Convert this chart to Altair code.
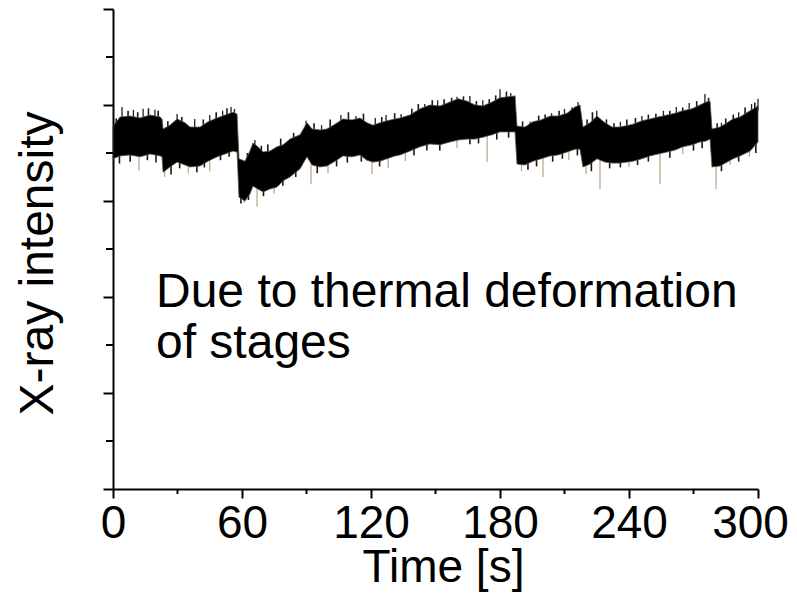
import altair as alt
import pandas as pd

# ---- data (time in s, intensity in arbitrary units 0..10) ----
TIME = [0, 3.3, 7.9, 12.6, 17.2, 21.9, 22.8, 23.3, 26.5, 29.8, 33.5, 35.8, 40.5, 44.2, 48.4,
        52.1, 55.8, 57.7, 58.6, 61.4, 63.7, 65.1, 67.4, 69.8, 73.0, 76.3, 79.1, 82.3, 87.0,
        90.2, 92.6, 96.3, 99.5, 103.3, 107.0, 111.2, 114.9, 118.1, 120.9, 124.2, 127.4,
        131.2, 133.5, 138.1, 142.8, 147.4, 152.1, 156.7, 160.5, 164.7, 168.4, 172.1, 176.3,
        180.0, 183.7, 187.0, 187.9, 191.6, 195.3, 199.1, 203.3, 207.0, 211.2, 214.9, 217.2,
        218.6, 221.9, 225.1, 228.8, 232.1, 235.8, 241.9, 246.0, 249.8, 253.5, 257.7, 261.4,
        265.1, 269.3, 273.0, 275.8, 277.7, 278.6, 282.3, 285.6, 288.4, 291.6, 296.3, 300.0]
UPPER = [7.56, 7.75, 7.77, 7.73, 7.79, 7.75, 7.71, 7.50, 7.58, 7.71, 7.63, 7.54, 7.54, 7.65, 7.73,
         7.79, 7.85, 7.81, 6.88, 6.83, 7.04, 7.21, 7.13, 7.02, 7.04, 7.13, 7.17, 7.29, 7.38,
         7.63, 7.50, 7.48, 7.50, 7.60, 7.71, 7.69, 7.73, 7.63, 7.58, 7.63, 7.67,
         7.71, 7.73, 7.79, 7.92, 8.00, 7.98, 8.06, 8.13, 8.08, 8.00, 7.98, 8.06,
         8.15, 8.17, 8.19, 7.56, 7.54, 7.65, 7.69, 7.77, 7.77, 7.83, 7.96, 8.00,
         7.54, 7.63, 7.77, 7.63, 7.54, 7.54, 7.60, 7.67, 7.71, 7.75, 7.79, 7.83,
         7.88, 7.92, 8.00, 8.06, 8.08, 7.50, 7.54, 7.63, 7.71, 7.75, 7.88, 7.98]
LOWER = [6.88, 6.94, 6.96, 6.92, 6.98, 6.94, 6.92, 6.60, 6.71, 6.81, 6.75, 6.71, 6.73, 6.83, 6.92,
         6.98, 7.04, 7.02, 6.08, 6.00, 6.15, 6.31, 6.25, 6.19, 6.25, 6.29, 6.42, 6.50, 6.67,
         6.92, 6.75, 6.71, 6.73, 6.83, 6.94, 6.92, 6.96, 6.85, 6.81, 6.83, 6.88,
         6.94, 6.96, 7.04, 7.13, 7.19, 7.17, 7.23, 7.27, 7.29, 7.29, 7.33, 7.38,
         7.44, 7.44, 7.44, 6.77, 6.75, 6.83, 6.88, 6.94, 6.96, 7.02, 7.08, 7.08,
         6.71, 6.77, 6.88, 6.81, 6.79, 6.79, 6.83, 6.88, 6.94, 6.98, 7.02, 7.06,
         7.13, 7.17, 7.23, 7.25, 7.29, 6.71, 6.73, 6.81, 6.88, 6.94, 7.04, 7.23]

# long downward noise spikes (pale): time, tip, base (inside the band)
DIP_T = [12.1, 24.0, 35.0, 45.0, 61.0, 67.0, 75.0, 92.1, 100.0, 120.5, 128.0, 136.0, 160.0,
         174.0, 190.0, 200.0, 212.0, 220.0, 226.5, 240.0, 254.4, 265.0, 280.5, 287.0, 296.0]
DIP_TIP = [6.63, 6.50, 6.58, 6.62, 5.96, 5.88, 6.15, 6.35, 6.58, 6.56, 6.69, 6.83, 7.10,
           6.81, 6.62, 6.50, 6.85, 6.56, 6.25, 6.71, 6.35, 6.98, 6.25, 6.75, 6.92]
DIP_BASE = [7.0, 6.7, 6.8, 6.9, 6.1, 6.35, 6.35, 6.85, 6.85, 6.9, 6.95, 7.1, 7.35,
            7.45, 6.85, 7.0, 7.1, 6.8, 6.95, 6.9, 7.05, 7.2, 6.8, 6.95, 7.1]
# upward noise peaks: time, tip, base (inside the band)
PEAK_T = [4.2, 9.5, 14.0, 19.5, 29.8, 38.0, 45.0, 51.0, 54.9, 56.5, 66.0, 89.8, 97.0, 106.0,
          113.0, 122.0, 127.0, 134.0, 145.0, 151.0, 160.0, 166.0, 172.0, 180.0, 185.0, 194.0,
          204.0, 210.0, 216.3, 225.0, 236.0, 246.0, 256.0, 262.0, 268.0, 275.3, 283.0, 291.0,
          297.0, 300.0]
PEAK_TIP = [7.96, 7.90, 7.92, 7.90, 7.81, 7.71, 7.79, 7.88, 7.96, 7.92, 7.27, 7.67, 7.58, 7.79,
            7.77, 7.73, 7.79, 7.81, 8.02, 8.10, 8.17, 8.19, 8.10, 8.33, 8.25, 7.65,
            7.83, 7.92, 8.06, 7.88, 7.65, 7.77, 7.88, 7.96, 8.04, 8.23, 7.63, 7.85,
            8.02, 8.13]
PEAK_BASE = [7.65, 7.67, 7.65, 7.66, 7.6, 7.45, 7.57, 7.67, 7.74, 7.73, 7.07, 7.5, 7.38, 7.59,
             7.61, 7.51, 7.57, 7.63, 7.86, 7.88, 8.02, 7.95, 7.88, 8.05, 8.08, 7.5,
             7.67, 7.7, 7.87, 7.67, 7.44, 7.57, 7.67, 7.73, 7.8, 7.96, 7.43, 7.65,
             7.8, 7.88]
# short fuzz on the upper edge
FUZZ_UP_T = [1.5, 7.0, 11.5, 16.5, 21.0, 25.5, 32.0, 42.0, 48.0, 53.0, 62.5, 69.0, 72.0, 78.0,
             84.0, 93.5, 101.0, 109.5, 116.5, 125.0, 131.0, 139.0, 142.0, 148.5, 154.0, 157.5,
             163.0, 169.0, 175.0, 178.0, 183.0, 190.5, 198.0, 201.0, 207.5, 213.5, 220.5,
             223.0, 229.5, 233.0, 239.0, 243.0, 249.0, 252.5, 259.0, 265.0, 271.5, 277.0,
             281.0, 285.0, 288.5, 294.0, 298.5]
FUZZ_UP_TIP = [7.72, 7.88, 7.85, 7.93, 7.88, 7.66, 7.75, 7.70, 7.85, 7.93, 7.00, 7.15, 7.18, 7.30,
               7.42, 7.62, 7.70, 7.85, 7.82, 7.75, 7.83, 7.92, 8.02, 8.10, 8.12, 8.15,
               8.18, 8.08, 8.12, 8.20, 8.28, 7.66, 7.78, 7.80, 7.88, 7.95, 7.70,
               7.85, 7.70, 7.62, 7.70, 7.73, 7.80, 7.82, 7.88, 7.95, 8.08, 8.15,
               7.62, 7.72, 7.80, 7.95, 8.05]
FUZZ_UP_BASE = [7.5, 7.65, 7.65, 7.68, 7.65, 7.45, 7.55, 7.5, 7.65, 7.72, 6.8, 6.95, 6.95, 7.1,
                7.2, 7.4, 7.5, 7.6, 7.6, 7.55, 7.6, 7.7, 7.8, 7.9, 7.9, 7.95,
                7.98, 7.9, 7.9, 7.98, 8.05, 7.45, 7.55, 7.6, 7.65, 7.75, 7.5,
                7.6, 7.5, 7.45, 7.5, 7.55, 7.6, 7.62, 7.7, 7.75, 7.85, 7.95,
                7.45, 7.5, 7.6, 7.75, 7.85]
# short fuzz on the lower edge
FUZZ_DN_T = [3.0, 8.0, 16.0, 20.0, 27.0, 31.0, 39.0, 42.5, 50.0, 54.0, 59.5, 63.0, 70.0, 79.0,
             85.0, 95.0, 104.0, 109.0, 115.5, 124.0, 140.0, 146.0, 152.0, 166.0, 170.0, 178.5,
             184.0, 193.0, 197.0, 204.5, 209.0, 216.0, 222.5, 231.0, 236.0, 244.0, 249.0,
             259.0, 270.0, 274.0, 283.0, 291.0, 299.0]
FUZZ_DN_TIP = [6.78, 6.82, 6.85, 6.80, 6.55, 6.68, 6.60, 6.70, 6.85, 6.92, 5.95, 6.02, 6.10, 6.32,
               6.50, 6.58, 6.72, 6.80, 6.82, 6.72, 6.95, 7.05, 7.05, 7.18, 7.20, 7.28,
               7.32, 6.65, 6.72, 6.82, 6.88, 6.95, 6.62, 6.68, 6.70, 6.75, 6.82,
               6.90, 7.05, 7.10, 6.62, 6.82, 7.00]
FUZZ_DN_BASE = [7.0, 7.0, 7.05, 7.0, 6.8, 6.9, 6.8, 6.9, 7.05, 7.1, 6.2, 6.2, 6.3, 6.5,
                6.7, 6.8, 6.9, 7.0, 7.0, 6.9, 7.15, 7.25, 7.25, 7.35, 7.4, 7.45,
                7.5, 6.85, 6.9, 7.0, 7.05, 7.15, 6.85, 6.9, 6.9, 6.95, 7.0,
                7.1, 7.25, 7.3, 6.85, 7.0, 7.25]

X_MAJOR = [0, 60, 120, 180, 240, 300]
X_MINOR = [30, 90, 150, 210, 270]
Y_MAJOR = [0, 2, 4, 6, 8, 10]
Y_MINOR = [1, 3, 5, 7, 9]
ANNOT = ["Due to thermal deformation", "of stages"]

FONT = "Liberation Sans"
FS = 48
FS_AX = 46
W, H = 645, 480

band_df = pd.DataFrame({"t": TIME, "hi": UPPER, "lo": LOWER})
dip_df = pd.DataFrame({"t": DIP_T, "tip": DIP_TIP, "base": DIP_BASE})
peak_df = pd.DataFrame({"t": PEAK_T, "tip": PEAK_TIP, "base": PEAK_BASE})
fuzz_df = pd.concat([
    pd.DataFrame({"t": FUZZ_UP_T, "tip": FUZZ_UP_TIP, "base": FUZZ_UP_BASE}),
    pd.DataFrame({"t": FUZZ_DN_T, "tip": FUZZ_DN_TIP, "base": FUZZ_DN_BASE}),
], ignore_index=True)
xmin_df = pd.DataFrame({"t": X_MINOR})
ymin_df = pd.DataFrame({"v": Y_MINOR})

xscale = alt.Scale(domain=[0, 300], nice=False, zero=False)
yscale = alt.Scale(domain=[0, 10], nice=False, zero=False)

x_axis = alt.Axis(values=X_MAJOR, title="Time [s]", grid=False,
                  labelFont=FONT, labelFontSize=FS_AX, labelColor="black",
                  labelBaseline="alphabetic", labelPadding=39, labelFlush=False,
                  labelOverlap=False,
                  labelOffset=alt.condition("datum.value == 300", alt.value(-8), alt.value(0)),
                  tickSize=9, tickWidth=2, tickColor="black",
                  domainColor="black", domainWidth=2,
                  titleFont=FONT, titleFontSize=FS_AX, titleFontWeight="normal",
                  titleColor="black", titleBaseline="alphabetic", titleX=330, titleY=92)
y_axis = alt.Axis(values=Y_MAJOR, labels=False, grid=False, title="X-ray intensity",
                  tickSize=10, tickWidth=2, tickColor="black",
                  domainColor="black", domainWidth=2,
                  titleFont=FONT, titleFontSize=FS, titleFontWeight="normal",
                  titleColor="black", titleBaseline="alphabetic", titleAngle=270,
                  titleX=-61, titleY=254)

X = lambda f: alt.X(f, type="quantitative", scale=xscale, axis=x_axis)
Y = lambda f: alt.Y(f, type="quantitative", scale=yscale, axis=y_axis)

dips = alt.Chart(dip_df).mark_rule(color="#bfa88f", strokeWidth=1.3).encode(
    x=X("t"), y=Y("tip"), y2="base")
peaks = alt.Chart(peak_df).mark_rule(color="#2a2018", strokeWidth=1.3).encode(
    x=X("t"), y=Y("tip"), y2="base")
fuzz = alt.Chart(fuzz_df).mark_rule(color="#1e1712", strokeWidth=1.6).encode(
    x=X("t"), y=Y("tip"), y2="base")
band = alt.Chart(band_df).mark_area(color="black", stroke="#5e4e3e", strokeWidth=0.8,
                                    fillOpacity=1).encode(
    x=X("t"), y=Y("lo"), y2="hi")
xminor = alt.Chart(xmin_df).mark_rule(color="black", strokeWidth=2).encode(
    x=X("t"), y=alt.value(H), y2=alt.value(H + 5))
yminor = alt.Chart(ymin_df).mark_rule(color="black", strokeWidth=2).encode(
    y=Y("v"), x=alt.value(0), x2=alt.value(-7))
note = alt.Chart(alt.Data(values=[{"k": 0}])).mark_text(
    text=ANNOT, align="left", baseline="alphabetic", font=FONT, fontSize=FS,
    lineHeight=51, color="black").encode(x=alt.value(43), y=alt.value(298))

chart = alt.layer(dips, peaks, fuzz, band, xminor, yminor, note).properties(
    width=W, height=H,
    autosize=alt.AutoSizeParams(type="none"),
    padding={"left": 105, "top": 1, "right": 31, "bottom": 103},
    background="white",
).configure_view(stroke=None)

chart.save("out.html", embed_options={"renderer": "svg", "actions": False})
